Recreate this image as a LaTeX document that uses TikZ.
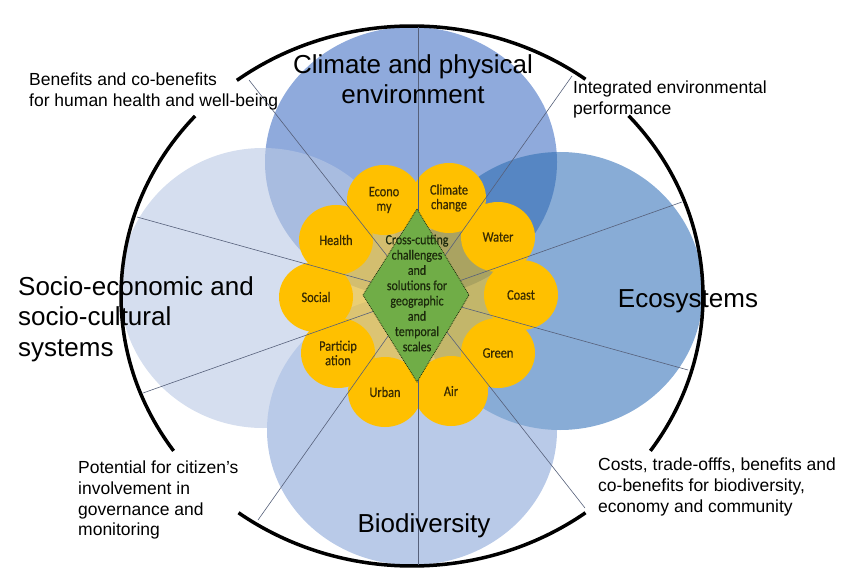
\documentclass[tikz,border=0pt]{standalone}
\usepackage{fontspec}
\setmainfont{Liberation Sans}
\newfontfamily\petalfont[FakeStretch=0.85, FakeBold=0.4]{Carlito}
\usepackage{tikz}
\usetikzlibrary{shapes.geometric}
\definecolor{climatecol}{HTML}{8FAADC}
\definecolor{sociocol}{HTML}{B9C8E4}
\definecolor{biocol}{HTML}{B9CAE8}
\definecolor{ecocol}{HTML}{88ACD6}
\definecolor{overlapcol}{HTML}{5686C3}
\definecolor{petalcol}{HTML}{FFC000}
\definecolor{petaltext}{HTML}{382A02}
\definecolor{crosscol}{HTML}{70AD47}
\definecolor{crosstext}{HTML}{1C2A0C}
\definecolor{spokecol}{HTML}{56607A}

\begin{document}
\begin{tikzpicture}[x=1pt, y=-1pt,
	petal/.style={ellipse, fill=petalcol, minimum width=74pt, minimum height=70pt, inner sep=0pt, text=petaltext, align=center, font=\petalfont\fontsize{14.5}{14.5}\selectfont},
	spoke/.style={spokecol, line width=0.6pt},
	rim/.style={line width=3.5pt},
	callout/.style={anchor=north west, inner sep=0pt, align=left, font=\fontsize{17.5}{21}\selectfont},
	theme/.style={inner sep=0pt, font=\fontsize{26}{30.5}\selectfont}]
	\useasboundingbox (0,0) rectangle (850,569);
	\fill[climatecol] (411,162) ellipse [x radius=146pt, y radius=135pt];
	\fill[sociocol, opacity=0.6] (263,288) ellipse [x radius=143pt, y radius=140pt];
	\fill[biocol] (412,430) ellipse [x radius=145pt, y radius=135pt];
	\fill[ecocol] (560,291) ellipse [x radius=143pt, y radius=139pt];
	\begin{scope}
		\clip (411,162) ellipse [x radius=146pt, y radius=135pt];
		\fill[overlapcol] (560,291) ellipse [x radius=143pt, y radius=139pt];
	\end{scope}
	\fill[petalcol, opacity=0.5] (418,295) ellipse [x radius=82pt, y radius=80pt];
	\coordinate (hub) at (412,296);
	\draw[rim] (hub) ++(127:291pt and 270pt) arc[start angle=127, end angle=53.4, x radius=291pt, y radius=270pt];
	\draw[rim] (hub) ++(41.9:291pt and 270pt) arc[start angle=41.9, end angle=-35, x radius=291pt, y radius=270pt];
	\draw[rim] (hub) ++(-53.4:291pt and 270pt) arc[start angle=-53.4, end angle=-126.6, x radius=291pt, y radius=270pt];
	\draw[rim] (hub) ++(-145:291pt and 270pt) arc[start angle=-145, end angle=-221.8, x radius=291pt, y radius=270pt];
	\node (econ) at (384,200) [petal] {Econo\\my};
	\node (clim) at (449,198) [petal] {Climate\\change};
	\node (water) at (498,237) [petal] {Water};
		\node (coast) at (521,295) [petal] {Coast};
		\node (green) at (498,353) [petal] {Green};
	\node (air) at (451,391) [petal] {Air};
	\node (urban) at (385,392) [petal] {Urban};
	\node (part) at (338,353) [petal] {Particip\\ation};
		\node (social) at (316,297) [petal] {Social};
		\node (health) at (336,240) [petal] {Health};
	\coordinate (top) at (418,27);
	\coordinate (bot) at (418,565);
	\coordinate (nw) at (249,80);
	\coordinate (se) at (585,508);
	\coordinate (ne) at (572,76);
	\coordinate (sw) at (258,520);
	\coordinate (wnw) at (137,217);
	\coordinate (ese) at (688,370);
	\coordinate (ene) at (682,202);
	\coordinate (wsw) at (143,393);
	\draw[spoke] (top) to (bot);
	\draw[spoke] (nw) to (se);
	\draw[spoke] (ne) to (sw);
	\draw[spoke] (wnw) to (ese);
	\draw[spoke] (ene) to (wsw);
	\coordinate (dn) at (417,209);
	\coordinate (de) at (469,295);
	\coordinate (ds) at (417,382);
	\coordinate (dw) at (363,295);
	\draw[fill=crosscol, draw=crosstext, densely dotted, line width=0.8pt] (dn) -- (de) -- (ds) -- (dw) -- cycle;
	\node (cross) at (417,293) [inner sep=0pt, align=center, text=crosstext, font=\petalfont\fontsize{14}{15.3}\selectfont] {Cross-cutting\\challenges\\and\\solutions for\\geographic\\and\\temporal\\scales};
	\node (climate) at (413,54) [theme, anchor=north, align=center] {Climate and physical\\environment};
	\node (socio) at (18,276) [theme, anchor=north west, align=left] {Socio-economic and\\socio-cultural\\systems};
	\node (eco) at (688,307) [theme, anchor=base] {Ecosystems};
	\node (bio) at (424,532) [theme, anchor=base] {Biodiversity};
	\node (health-text) at (29,73) [callout] {Benefits and co-benefits\\for human health and well-being};
	\node (env-text) at (573,81) [callout] {Integrated environmental\\performance};
	\node (citizen-text) at (78,461) [callout, font=\fontsize{17.5}{20.7}\selectfont] {Potential for citizen's\\involvement in\\governance and\\monitoring};
	\node (cost-text) at (598,458) [callout] {Costs, trade-offfs, benefits and\\co-benefits for biodiversity,\\economy and community};
\end{tikzpicture}
\end{document}
